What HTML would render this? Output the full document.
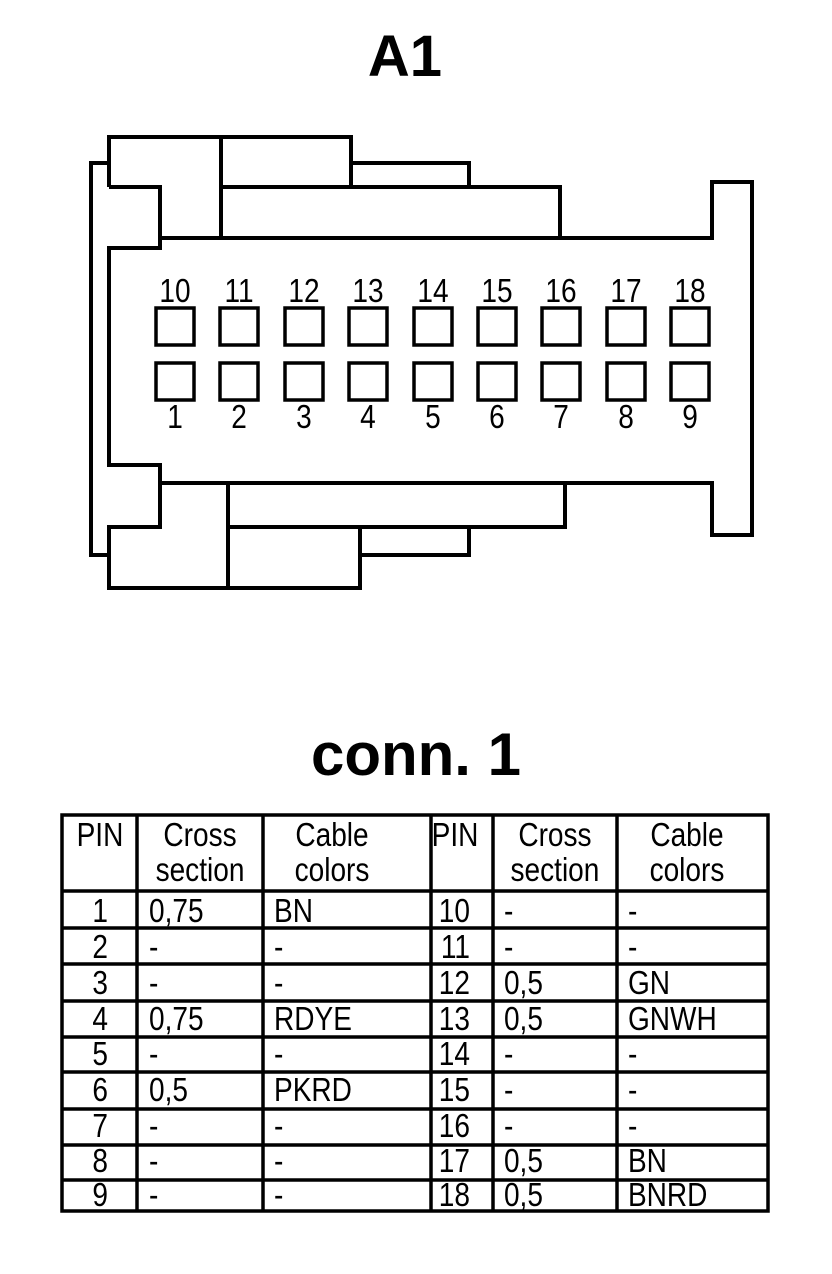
<!DOCTYPE html>
<html><head><meta charset="utf-8"><style>
html,body{margin:0;padding:0;background:#fff;}
svg{display:block;}
text{font-family:"Liberation Sans",Arial,sans-serif;fill:#000;}
</style></head><body>
<svg width="832" height="1274" viewBox="0 0 832 1274" xmlns="http://www.w3.org/2000/svg">
<text x="405" y="76" font-size="58" font-weight="bold" text-anchor="middle">A1</text>
<g fill="none" stroke="#000" stroke-width="4" stroke-linejoin="miter">
<polyline points="109,163 91,163 91,555 109,555"/>
<polyline points="109,187 109,137 351,137 351,163 469,163 469,187 560,187 560,238 712,238 712,182 752,182 752,535 712,535 712,483 160,483"/>
<polyline points="109,187 160,187 160,248 109,248 109,465 160,465 160,527 109,527 109,588 360,588 360,555 469,555 469,527 565,527 565,483"/>
<line x1="160" y1="238" x2="712" y2="238"/>
<line x1="221" y1="137" x2="221" y2="238"/>
<line x1="221" y1="187" x2="560" y2="187"/>
<line x1="351" y1="163" x2="351" y2="187"/>
<line x1="228" y1="483" x2="228" y2="588"/>
<line x1="228" y1="527" x2="469" y2="527"/>
<line x1="360" y1="527" x2="360" y2="555"/>
</g>
<g fill="none" stroke="#000" stroke-width="3.5">
<rect x="156" y="308" width="38" height="37"/><rect x="220" y="308" width="38" height="37"/><rect x="285" y="308" width="38" height="37"/><rect x="349" y="308" width="38" height="37"/><rect x="414" y="308" width="38" height="37"/><rect x="478" y="308" width="38" height="37"/><rect x="542" y="308" width="38" height="37"/><rect x="607" y="308" width="38" height="37"/><rect x="671" y="308" width="38" height="37"/>
<rect x="156" y="363" width="38" height="37"/><rect x="220" y="363" width="38" height="37"/><rect x="285" y="363" width="38" height="37"/><rect x="349" y="363" width="38" height="37"/><rect x="414" y="363" width="38" height="37"/><rect x="478" y="363" width="38" height="37"/><rect x="542" y="363" width="38" height="37"/><rect x="607" y="363" width="38" height="37"/><rect x="671" y="363" width="38" height="37"/>
</g>
<g font-size="33" text-anchor="middle" transform="scale(0.85 1)">
<text x="205.9" y="302">10</text><text x="281.2" y="302">11</text><text x="357.6" y="302">12</text><text x="432.9" y="302">13</text><text x="509.4" y="302">14</text><text x="584.7" y="302">15</text><text x="660" y="302">16</text><text x="736.5" y="302">17</text><text x="811.8" y="302">18</text>
<text x="205.9" y="428">1</text><text x="281.2" y="428">2</text><text x="357.6" y="428">3</text><text x="432.9" y="428">4</text><text x="509.4" y="428">5</text><text x="584.7" y="428">6</text><text x="660" y="428">7</text><text x="736.5" y="428">8</text><text x="811.8" y="428">9</text>
</g>
<text x="416" y="775" font-size="60" font-weight="bold" text-anchor="middle">conn. 1</text>
<g fill="none" stroke="#000" stroke-width="3.5">
<rect x="62" y="815" width="706" height="396"/>
<line x1="137" y1="815" x2="137" y2="1211"/>
<line x1="263" y1="815" x2="263" y2="1211"/>
<line x1="431" y1="815" x2="431" y2="1211"/>
<line x1="493" y1="815" x2="493" y2="1211"/>
<line x1="617" y1="815" x2="617" y2="1211"/>
<line x1="62" y1="891" x2="768" y2="891"/>
<line x1="62" y1="928" x2="768" y2="928"/>
<line x1="62" y1="964" x2="768" y2="964"/>
<line x1="62" y1="1001" x2="768" y2="1001"/>
<line x1="62" y1="1037" x2="768" y2="1037"/>
<line x1="62" y1="1072" x2="768" y2="1072"/>
<line x1="62" y1="1109" x2="768" y2="1109"/>
<line x1="62" y1="1145" x2="768" y2="1145"/>
<line x1="62" y1="1180" x2="768" y2="1180"/>
</g>
<g font-size="33" transform="scale(0.85 1)">
<text x="117.6" y="846" text-anchor="middle">PIN</text>
<text x="235.3" y="846" text-anchor="middle">Cross</text>
<text x="235.3" y="881" text-anchor="middle">section</text>
<text x="390.6" y="846" text-anchor="middle">Cable</text>
<text x="390.6" y="881" text-anchor="middle">colors</text>
<text x="535.3" y="846" text-anchor="middle">PIN</text>
<text x="652.9" y="846" text-anchor="middle">Cross</text>
<text x="652.9" y="881" text-anchor="middle">section</text>
<text x="808.2" y="846" text-anchor="middle">Cable</text>
<text x="808.2" y="881" text-anchor="middle">colors</text>
<g text-anchor="end">
<text x="127.1" y="922">1</text><text x="127.1" y="958">2</text><text x="127.1" y="994">3</text><text x="127.1" y="1030">4</text><text x="127.1" y="1065">5</text><text x="127.1" y="1101">6</text><text x="127.1" y="1137">7</text><text x="127.1" y="1172">8</text><text x="127.1" y="1206">9</text>
<text x="552.9" y="922">10</text><text x="552.9" y="958">11</text><text x="552.9" y="994">12</text><text x="552.9" y="1030">13</text><text x="552.9" y="1065">14</text><text x="552.9" y="1101">15</text><text x="552.9" y="1137">16</text><text x="552.9" y="1172">17</text><text x="552.9" y="1206">18</text>
</g>
<text x="175.3" y="922">0,75</text><text x="175.3" y="958">-</text><text x="175.3" y="994">-</text><text x="175.3" y="1030">0,75</text><text x="175.3" y="1065">-</text><text x="175.3" y="1101">0,5</text><text x="175.3" y="1137">-</text><text x="175.3" y="1172">-</text><text x="175.3" y="1206">-</text>
<text x="322.4" y="922">BN</text><text x="322.4" y="958">-</text><text x="322.4" y="994">-</text><text x="322.4" y="1030">RDYE</text><text x="322.4" y="1065">-</text><text x="322.4" y="1101">PKRD</text><text x="322.4" y="1137">-</text><text x="322.4" y="1172">-</text><text x="322.4" y="1206">-</text>
<text x="592.9" y="922">-</text><text x="592.9" y="958">-</text><text x="592.9" y="994">0,5</text><text x="592.9" y="1030">0,5</text><text x="592.9" y="1065">-</text><text x="592.9" y="1101">-</text><text x="592.9" y="1137">-</text><text x="592.9" y="1172">0,5</text><text x="592.9" y="1206">0,5</text>
<text x="738.8" y="922">-</text><text x="738.8" y="958">-</text><text x="738.8" y="994">GN</text><text x="738.8" y="1030">GNWH</text><text x="738.8" y="1065">-</text><text x="738.8" y="1101">-</text><text x="738.8" y="1137">-</text><text x="738.8" y="1172">BN</text><text x="738.8" y="1206">BNRD</text>
</g>
</svg>
</body></html>
